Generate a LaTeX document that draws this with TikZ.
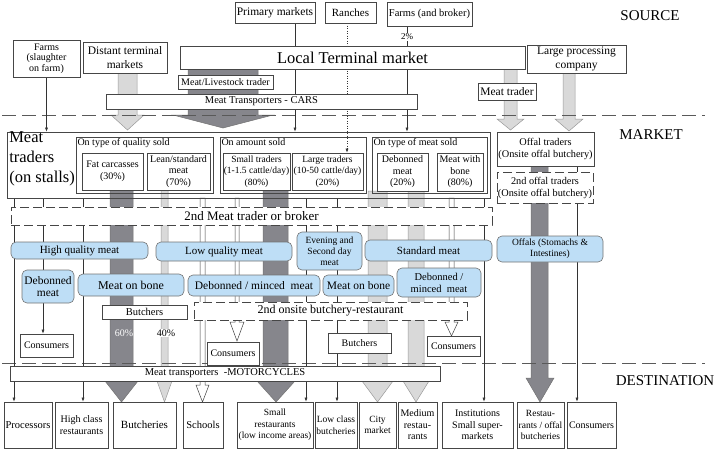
\documentclass[tikz,border=0pt]{standalone}
\usepackage{fontspec}
\setmainfont{Liberation Serif}
\usetikzlibrary{arrows.meta, backgrounds}

\definecolor{meatblue}{RGB}{190,222,246}
\definecolor{bardark}{RGB}{134,134,140}
\definecolor{barlight}{RGB}{217,217,217}
\definecolor{boxline}{RGB}{70,70,70}

\begin{document}
\begin{tikzpicture}[x=1pt, y=-1pt, line width=0.6pt, align=center, inner sep=0.8pt]

    % Styles
    \tikzstyle{box} = [draw=boxline, fill=white, font=\fontsize{10.5}{11.5}\selectfont]
    \tikzstyle{broker} = [box, dash pattern=on 9pt off 4pt]
    \tikzstyle{group} = [draw=boxline]
    \tikzstyle{caption} = [anchor=north west, inner sep=1.5pt, font=\fontsize{10}{11}\selectfont]
    \tikzstyle{meat} = [box, rounded corners=5pt, fill=meatblue, draw=black!55]
    \tikzstyle{zone} = [font=\fontsize{15}{18}\selectfont]
    \tikzstyle{arrow} = [-{Latex[length=4pt,width=3pt]}, draw=black!80, line width=0.55pt]
    \tikzstyle{darkbar} = [fill=bardark, draw=black!55, line width=0.5pt]
    \tikzstyle{lightbar} = [fill=barlight, draw=black!40, line width=0.5pt]
    \tikzstyle{hollow} = [fill=white, draw=black!75, line width=0.5pt]
    \tikzstyle{divider} = [draw=black!65, dash pattern=on 14pt off 6pt, line width=0.8pt]

    \useasboundingbox (0,0) rectangle (720,456);

    % Zone labels
    \node[zone] (SRC) at (650,16) {SOURCE};
    \node[zone] (MKT) at (651,135) {MARKET};
    \node[zone] (DST) at (665,381) {DESTINATION};

    % Source
    \node[box, minimum width=80pt, minimum height=21pt, font=\fontsize{11.5}{13}\selectfont] (PM) at (275,12.5) {Primary markets};
    \node[box, minimum width=51pt, minimum height=21pt, font=\fontsize{11}{13}\selectfont] (RA) at (350.5,12.5) {Ranches};
    \node[box, minimum width=85pt, minimum height=24pt] (FB) at (429.5,14) {Farms (and broker)};
    \node[box, minimum width=345pt, minimum height=23pt, font=\fontsize{16.5}{18}\selectfont] (LTM) at (352.5,57.5) {Local Terminal market};
    \node[box, minimum width=99pt, minimum height=28pt, font=\fontsize{11.5}{13.5}\selectfont] (LPC) at (576.5,59) {Large processing\\company};
    \node[box, minimum width=67pt, minimum height=37pt, font=\fontsize{10}{10.5}\selectfont] (FS) at (46.5,58.5) {Farms\\(slaughter\\on farm)};
    \node[box, minimum width=84pt, minimum height=31pt, font=\fontsize{11.5}{13.5}\selectfont] (DTM) at (125,57.5) {Distant terminal\\markets};
    \node[box, minimum width=95pt, minimum height=14pt, font=\fontsize{10}{11}\selectfont] (MLT) at (225.5,82) {Meat/Livestock trader};
    \node[box, minimum width=311pt, minimum height=15pt] (MTC) at (261.5,101.5) {Meat Transporters - CARS};
    \node[box, minimum width=58pt, minimum height=17pt, font=\fontsize{11.5}{13}\selectfont] (MTD) at (507,91.5) {Meat trader};

    % Market: traders on stalls
    \node[group, minimum width=483pt, minimum height=66pt] (MTR) at (248.5,165) {};
    \node[anchor=north west, align=left, inner sep=0pt, font=\fontsize{16.5}{20}\selectfont] (MTRt) at (9,131.5) {Meat\\traders\\(on stalls)};

    \node[group, minimum width=137pt, minimum height=56pt] (QS) at (144.5,165) {};
    \node[caption] (QSl) at (QS.north west) {On type of quality sold};
    \node[box, minimum width=61pt, minimum height=37pt, font=\fontsize{10}{12}\selectfont] (FC) at (112.5,171.5) {Fat carcasses\\(30\%)};
    \node[box, minimum width=63pt, minimum height=37pt, font=\fontsize{10}{11.5}\selectfont] (LS) at (178.5,171.5) {Lean/standard\\meat\\(70\%)};

    \node[group, minimum width=146pt, minimum height=56pt] (AS) at (293,165) {};
    \node[caption] (ASl) at (AS.north west) {On amount sold};
    \node[box, minimum width=65pt, minimum height=37pt, font=\fontsize{9.5}{11.5}\selectfont] (ST) at (256.5,171.5) {Small traders\\(1-1.5 cattle/day)\\(80\%)};
    \node[box, minimum width=71pt, minimum height=37pt, font=\fontsize{9.5}{11.5}\selectfont] (LT) at (327.5,171.5) {Large traders\\(10-50 cattle/day)\\(20\%)};

    \node[group, minimum width=115pt, minimum height=56pt] (TS) at (429.5,165) {};
    \node[caption] (TSl) at (TS.north west) {On type of meat sold};
    \node[box, minimum width=51pt, minimum height=38pt, font=\fontsize{10}{11.5}\selectfont] (DB) at (402.5,172) {Debonned\\meat\\(20\%)};
    \node[box, minimum width=46pt, minimum height=38pt, font=\fontsize{10}{11.5}\selectfont] (WB) at (460,172) {Meat with\\bone\\(80\%)};

    % Market: offal
    \node[box, minimum width=97pt, minimum height=34pt, font=\fontsize{10.3}{12}\selectfont] (OT) at (545.5,149) {Offal traders\\(Onsite offal butchery)};
    \node[broker, minimum width=96pt, minimum height=31pt, font=\fontsize{10.3}{12}\selectfont] (OT2) at (545,187.5) {2nd offal traders\\(Onsite offal butchery)};

    \node[broker, minimum width=481pt, minimum height=18pt, font=\fontsize{13}{14}\selectfont] (BR) at (251.5,216) {2nd Meat trader or broker};

    % Meat types
    \node[meat, minimum width=137pt, minimum height=17pt, font=\fontsize{11}{12}\selectfont] (HQ) at (79.5,250.5) {High quality meat};
    \node[meat, minimum width=136pt, minimum height=19pt, font=\fontsize{11}{12}\selectfont] (LQ) at (224,251.5) {Low quality meat};
    \node[meat, minimum width=65pt, minimum height=38pt, font=\fontsize{9.5}{11}\selectfont] (EV) at (329.5,251) {Evening and\\Second day\\meat};
    \node[meat, minimum width=127pt, minimum height=21pt, font=\fontsize{11}{12}\selectfont] (SM) at (428.5,250.5) {Standard meat};
    \node[meat, minimum width=106pt, minimum height=26pt, font=\fontsize{9.5}{11}\selectfont] (OF) at (550,249) {Offals (Stomachs \&\\Intestines)};
    \node[meat, minimum width=52pt, minimum height=33pt, font=\fontsize{11.5}{12.5}\selectfont] (DM1) at (48,286.5) {Debonned\\meat};
    \node[meat, minimum width=106pt, minimum height=22pt, font=\fontsize{12}{13}\selectfont] (MB1) at (131,285) {Meat on bone};
    \node[meat, minimum width=132pt, minimum height=21pt, font=\fontsize{11.5}{12.5}\selectfont] (DM2) at (254,285.5) {Debonned / minced \ meat};
    \node[meat, minimum width=71pt, minimum height=21pt, font=\fontsize{11.5}{12.5}\selectfont] (MB2) at (358.5,285.5) {Meat on bone};
    \node[meat, minimum width=84pt, minimum height=29pt, font=\fontsize{10.5}{12}\selectfont] (DM3) at (439,282.5) {Debonned /\\minced \ meat};

    % Second level
    \node[box, minimum width=85pt, minimum height=14pt] (BU1) at (144.5,312) {Butchers};
    \node[broker, minimum width=273pt, minimum height=18pt, font=\fontsize{12}{13}\selectfont] (OB) at (330.5,311) {2nd onsite butchery-restaurant};
    \node[box, minimum width=53pt, minimum height=23pt, font=\fontsize{10}{11}\selectfont] (CO1) at (46.5,345.5) {Consumers};
    \node[box, minimum width=52pt, minimum height=23pt, font=\fontsize{10}{11}\selectfont] (CO2) at (233,353.5) {Consumers};
    \node[box, minimum width=53pt, minimum height=20pt, font=\fontsize{10}{11}\selectfont] (CO3) at (453.5,346) {Consumers};
    \node[box, minimum width=63pt, minimum height=20pt, font=\fontsize{10}{11}\selectfont] (BU2) at (359.5,343) {Butchers};
    \node[text=white, font=\fontsize{10}{11}\selectfont] (P60) at (124,333) {60\%};
    \node[fill=white, font=\fontsize{10}{11}\selectfont] (P40) at (166,333) {40\%};

    \node[box, minimum width=430pt, minimum height=15pt] (MC) at (225,373.5) {Meat transporters \ -MOTORCYCLES};

    % Destinations
    \foreach \name/\x/\w/\fs/\txt in {PR/28/48/10.5/Processors, HC/81.5/53/10/{High class\\restaurants},
        BT/144.5/63/11/Butcheries, SC/203/40/10.5/Schools, SR/275/76/9.5/{Small\\restaurants\\(low income areas)},
        LC/336/42/9.5/{Low class\\butcheries}, CM/377.5/37/9.5/{City\\market}, MR/417.5/39/10/{Medium\\restau-\\rants},
        IN/477.5/71/10/{Institutions\\Small super-\\markets}, RO/540.5/47/9.5/{Restau-\\rants / offal\\butcheries},
        CB/591.5/49/10/Consumers}
        \node[box, minimum width=\w pt, minimum height=46pt, font=\fontsize{\fs}{11.5}\selectfont] (\name) at (\x,425) {\txt};

    \begin{pgfonlayer}{background}
    % Dark flows
    \foreach \xa/\xb/\ha/\hb/\ya/\yh/\yt in {188/258/173/273/69/115/128, 110/133/105/138/190/381/402,
        263/288/257/295/190/381/402, 531/548/526/554/166/378/402}
        \path[darkbar] (\xa,\ya) -- (\xb,\ya) -- (\xb,\yh) -- (\hb,\yh) -- ({(\ha+\hb)/2},\yt) -- (\ha,\yh) -- (\xa,\yh) -- cycle;

    % Light flows
    \foreach \xa/\xb/\ha/\hb/\ya/\yh/\yt in {118/137/111/144/73/115/130, 504/517/497/524/69/119/130,
        563/575/555/583/73/119/131, 161/168/157/172/190/381/402, 368/387/362/393/191/381/402, 408/424/403/429/191/381/402}
        \path[lightbar] (\xa,\ya) -- (\xb,\ya) -- (\xb,\yh) -- (\hb,\yh) -- ({(\ha+\hb)/2},\yt) -- (\ha,\yh) -- (\xa,\yh) -- cycle;

    % Hollow flows
    \foreach \xa/\xb/\ha/\hb/\ya/\yh/\yt in {200/205/196/209/198/385/402, 235/239/230/244/198/322/341, 449/454/445/458/198/322/336}
        \path[hollow] (\xa,\ya) -- (\xb,\ya) -- (\xb,\yh) -- (\hb,\yh) -- ({(\ha+\hb)/2},\yt) -- (\ha,\yh) -- (\xa,\yh) -- cycle;

    % Separators
    \draw[divider] (2,115) -- (705,115);
    \draw[divider] (2,363) -- (705,363);

    % Source to market
    \draw[arrow] (FS.south) -- (FS.south |- MTR.north);
    \coordinate (pmo) at (295,23);
    \draw[arrow] (pmo) -- (pmo |- MTR.north);
    \coordinate (rao) at (347,23);
    \draw[arrow, dash pattern=on 1pt off 1.5pt] (rao) -- (rao |- LT.north);
    \coordinate (fbo) at (407,25);
    \draw[arrow] (fbo) -- (fbo |- MTR.north) node[pos=0.11, fill=white, inner sep=1pt, font=\fontsize{9}{10}\selectfont] (PCT) {2\%};

    % Market to destination
    \foreach \x/\dest in {14/PR, 83/HC, 306/SR, 337/LC, 484/IN}
    {
        \coordinate (m\x) at (\x,198);
        \draw[arrow] (m\x) -- (m\x |- \dest.north);
    }
    \coordinate (m43) at (43,198);
    \draw[arrow] (m43) -- (m43 |- CO1.north);
    \coordinate (ofo) at (577,166);
    \draw[arrow] (ofo) -- (ofo |- CB.north);
    \end{pgfonlayer}

\end{tikzpicture}
\end{document}
